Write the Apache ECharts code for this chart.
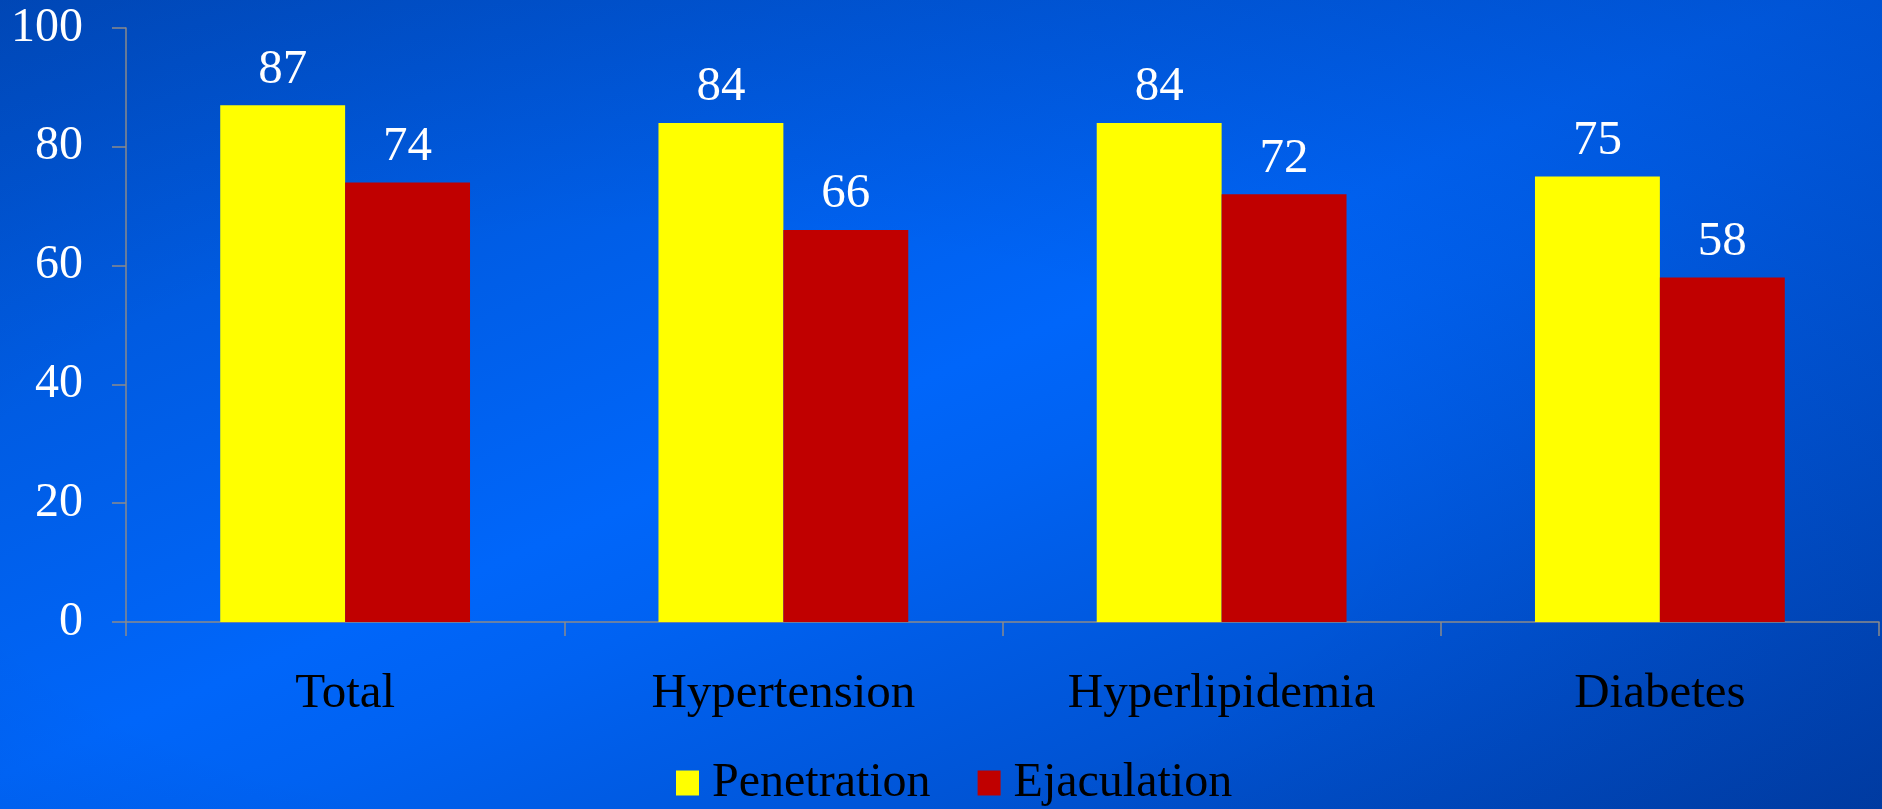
<!DOCTYPE html>
<html>
<head>
<meta charset="utf-8">
<script src="https://cdn.jsdelivr.net/npm/echarts@6/dist/echarts.min.js"></script>
<style>
  html, body { margin: 0; padding: 0; }
  #chart {
    width: 1882px; height: 809px;
    background:
      radial-gradient(ellipse at 35% 65%, rgba(0,0,0,0) 40%, rgba(0,10,60,0.20) 100%),
      linear-gradient(to bottom right, #0050c8 0%, #0066fa 48%, #0062f2 56%, #0042b0 100%);
  }
</style>
</head>
<body>
<div id="chart"></div>
<script>
// Share of patients (%) reporting each outcome, by group
const categories = ['Total', 'Hypertension', 'Hyperlipidemia', 'Diabetes'];
const penetration = [87, 84, 84, 75];
const ejaculation = [74, 66, 72, 58];
const seriesNames = ['Penetration', 'Ejaculation'];

const serif = '"Liberation Serif", "Times New Roman", serif';
const axisGrey = '#8a8a8a';

const chart = echarts.init(document.getElementById('chart'), null, { renderer: 'canvas' });

const valueLabel = {
  show: true,
  position: 'top',
  distance: 11,
  color: '#ffffff',
  fontFamily: serif,
  fontSize: 49
};

chart.setOption({
  backgroundColor: 'transparent',
  animation: false,
  grid: { left: 126, right: 3, top: 28, bottom: 187, containLabel: false },
  legend: {
    data: seriesNames,
    left: 671,
    top: 754,
    itemWidth: 23,
    itemHeight: 25,
    itemGap: 47,
    icon: 'rect',
    textStyle: { color: '#000000', fontFamily: serif, fontSize: 48, padding: [0, 0, 0, 8] }
  },
  xAxis: {
    type: 'category',
    data: categories,
    axisLine: { lineStyle: { color: axisGrey, width: 1.5 } },
    axisTick: { show: true, length: 14, lineStyle: { color: axisGrey, width: 1.5 } },
    axisLabel: { color: '#000000', fontFamily: serif, fontSize: 49, margin: 48 }
  },
  yAxis: {
    type: 'value',
    min: 0,
    max: 100,
    interval: 20,
    splitLine: { show: false },
    axisLine: { show: true, lineStyle: { color: axisGrey, width: 1.5 } },
    axisTick: { show: true, length: 14, lineStyle: { color: axisGrey, width: 1.5 } },
    axisLabel: { color: '#ffffff', fontFamily: serif, fontSize: 48, margin: 43 }
  },
  series: [
    {
      name: seriesNames[0],
      type: 'bar',
      data: penetration,
      barGap: '0%',
      barCategoryGap: '43%',
      itemStyle: { color: '#ffff00' },
      label: valueLabel
    },
    {
      name: seriesNames[1],
      type: 'bar',
      data: ejaculation,
      itemStyle: { color: '#c00000' },
      label: valueLabel
    }
  ]
});
</script>
</body>
</html>
